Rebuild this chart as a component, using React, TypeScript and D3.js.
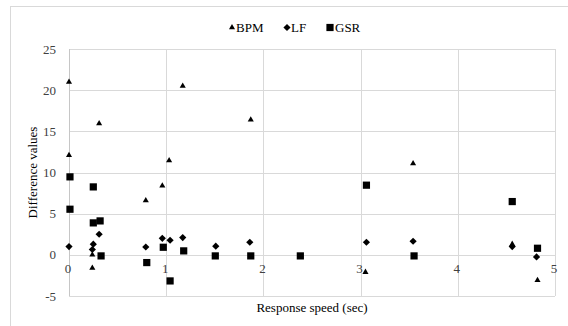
import React from "react";
import * as d3 from "d3";

const xTicks = [0, 1, 2, 3, 4, 5];
const yTicks = [-5, 0, 5, 10, 15, 20, 25];

const bpmX = [0, 0, 0.31, 1.17, 1.03, 0.96, 0.79, 0.24, 0.24, 1.87, 3.05, 3.54, 4.56, 4.82];
const bpmY = [21.0, 12.1, 15.95, 20.5, 11.45, 8.4, 6.6, 0.0, -1.6, 16.4, -2.1, 11.1, 1.3, -3.1];

const lfX = [0, 0.25, 0.24, 0.31, 0.79, 0.96, 1.04, 1.17, 1.51, 1.86, 3.06, 3.54, 4.56, 4.81];
const lfY = [1.0, 1.3, 0.65, 2.5, 0.95, 2.0, 1.77, 2.1, 1.05, 1.53, 1.53, 1.65, 1.0, -0.25];

const gsrX = [0.01, 0.01, 0.25, 0.25, 0.32, 0.33, 0.8, 0.97, 1.04, 1.18, 1.505, 1.87, 2.38, 3.06, 3.55, 4.56, 4.82];
const gsrY = [9.47, 5.54, 8.25, 3.88, 4.12, -0.13, -0.94, 0.92, -3.17, 0.48, -0.13, -0.13, -0.13, 8.46, -0.13, 6.47, 0.8];

const seriesNames = ["BPM", "LF", "GSR"];

const W = 568;
const H = 326;
const left = 69, right = 555, top = 49, bottom = 296;

const font = "'Liberation Serif', 'Times New Roman', serif";

function Marker({ type, x, y }: { type: string; x: number; y: number }) {
  if (type === "BPM") {
    const p = d3.symbol().type(d3.symbolTriangle).size(16)();
    return <path d={p || ""} transform={`translate(${x},${y})`} fill="#000" />;
  }
  if (type === "LF") {
    const s = 3.6;
    return <path d={`M${x},${y - s}L${x + s},${y}L${x},${y + s}L${x - s},${y}Z`} fill="#000" />;
  }
  return <rect x={x - 3.6} y={y - 3.6} width={7.2} height={7.2} fill="#000" />;
}

export default function App() {
  const xs = d3.scaleLinear().domain([0, 5]).range([left, right]);
  const ys = d3.scaleLinear().domain([-5, 25]).range([bottom, top]);

  const series = [
    { name: "BPM", xv: bpmX, yv: bpmY },
    { name: "LF", xv: lfX, yv: lfY },
    { name: "GSR", xv: gsrX, yv: gsrY },
  ];

  const legendPos = [
    { mx: 232, tx: 236 },
    { mx: 287, tx: 291 },
    { mx: 330, tx: 335 },
  ];

  return (
    <svg width={W} height={H} style={{ position: "absolute", left: 0, top: 0, background: "#fff" }}>
      <rect x={0} y={0} width={W} height={H} fill="#fff" />
      <rect x={10.5} y={6.5} width={600} height={400} fill="none" stroke="#d9d9d9" strokeWidth={1} />
      {yTicks.map((t) => (
        <line key={"gy" + t} x1={left} x2={right} y1={Math.round(ys(t)) + 0.5} y2={Math.round(ys(t)) + 0.5} stroke="#d9d9d9" strokeWidth={1} />
      ))}
      {xTicks.map((t) => (
        <line key={"gx" + t} x1={Math.round(xs(t)) + 0.5} x2={Math.round(xs(t)) + 0.5} y1={top} y2={bottom} stroke={t === 0 ? "#c6c6c6" : "#d9d9d9"} strokeWidth={1} />
      ))}
      {yTicks.map((t) => (
        <text key={"ty" + t} x={56} y={ys(t) + 4.5} textAnchor="end" fontFamily={font} fontSize={13} fill="#404040">
          {t}
        </text>
      ))}
      {xTicks.map((t) => (
        <text key={"tx" + t} x={xs(t) - 1} y={ys(0) + 18} textAnchor="middle" fontFamily={font} fontSize={13} fill="#404040">
          {t}
        </text>
      ))}
      {series.map((s) =>
        s.xv.map((xv, i) => <Marker key={s.name + i} type={s.name} x={xs(xv)} y={ys(s.yv[i])} />)
      )}
      <text x={(left + right) / 2} y={312} textAnchor="middle" fontFamily={font} fontSize={13} fill="#000">
        Response speed (sec)
      </text>
      <text transform={`translate(37,${(top + bottom) / 2}) rotate(-90)`} textAnchor="middle" fontFamily={font} fontSize={13} fill="#000">
        Difference values
      </text>
      {seriesNames.map((n, i) => (
        <g key={"lg" + n}>
          <Marker type={n} x={legendPos[i].mx} y={27.5} />
          <text x={legendPos[i].tx} y={32} fontFamily={font} fontSize={13} fill="#000">
            {n}
          </text>
        </g>
      ))}
    </svg>
  );
}
